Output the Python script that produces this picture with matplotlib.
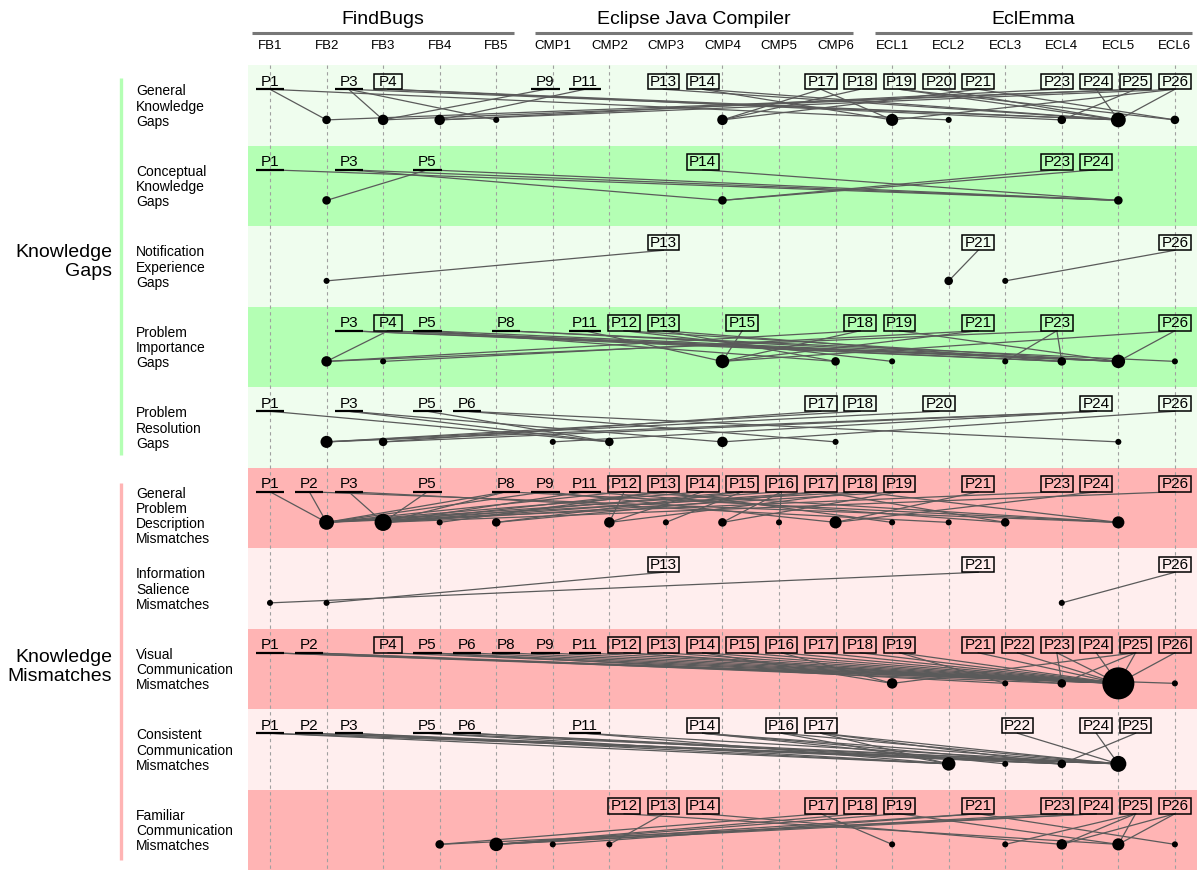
import matplotlib
matplotlib.use('Agg')
import matplotlib.pyplot as plt
from matplotlib.patches import Rectangle

# notifications (columns), grouped by tool
columns = ['FB1', 'FB2', 'FB3', 'FB4', 'FB5',
           'CMP1', 'CMP2', 'CMP3', 'CMP4', 'CMP5', 'CMP6',
           'ECL1', 'ECL2', 'ECL3', 'ECL4', 'ECL5', 'ECL6']
tools = ['FindBugs', 'Eclipse Java Compiler', 'EclEmma']
tool_columns = [('FB1', 'FB5'), ('CMP1', 'CMP6'), ('ECL1', 'ECL6')]

participants = ['P1', 'P2', 'P3', 'P4', 'P5', 'P6', 'P8', 'P9', 'P11', 'P12', 'P13', 'P14',
                'P15', 'P16', 'P17', 'P18', 'P19', 'P20', 'P21', 'P22', 'P23', 'P24', 'P25', 'P26']
boxed = ['P4', 'P12', 'P13', 'P14', 'P15', 'P16', 'P17', 'P18', 'P19', 'P20',
         'P21', 'P22', 'P23', 'P24', 'P25', 'P26']

categories = ['General\nKnowledge\nGaps', 'Conceptual\nKnowledge\nGaps',
              'Notification\nExperience\nGaps', 'Problem\nImportance\nGaps',
              'Problem\nResolution\nGaps', 'General\nProblem\nDescription\nMismatches',
              'Information\nSalience\nMismatches', 'Visual\nCommunication\nMismatches',
              'Consistent\nCommunication\nMismatches', 'Familiar\nCommunication\nMismatches']
groups = ['Knowledge\nGaps', 'Knowledge\nMismatches']

# dot weights per row (notification -> number of mentions)
dots_general_knowledge = {'FB2': 2, 'FB3': 3, 'FB4': 3, 'FB5': 1, 'CMP4': 3, 'ECL1': 4,
                          'ECL2': 1, 'ECL4': 2, 'ECL5': 6, 'ECL6': 2}
dots_conceptual = {'FB2': 2, 'CMP4': 2, 'ECL5': 2}
dots_notification_exp = {'FB2': 1, 'ECL2': 2, 'ECL3': 1}
dots_importance = {'FB2': 3, 'FB3': 1, 'CMP4': 5, 'CMP6': 2, 'ECL1': 1, 'ECL3': 1,
                   'ECL4': 2, 'ECL5': 5, 'ECL6': 1}
dots_resolution = {'FB2': 4, 'FB3': 2, 'CMP1': 1, 'CMP2': 2, 'CMP4': 3, 'CMP6': 1, 'ECL5': 1}
dots_general_problem = {'FB2': 6, 'FB3': 8, 'FB4': 1, 'FB5': 2, 'CMP2': 3, 'CMP3': 1,
                        'CMP4': 2, 'CMP5': 1, 'CMP6': 4, 'ECL1': 1, 'ECL2': 1, 'ECL3': 2,
                        'ECL5': 4}
dots_salience = {'FB1': 1, 'FB2': 1, 'ECL4': 1}
dots_visual = {'ECL1': 3, 'ECL3': 1, 'ECL4': 2, 'ECL5': 28, 'ECL6': 1}
dots_consistent = {'ECL2': 5, 'ECL3': 1, 'ECL4': 2, 'ECL5': 7}
dots_familiar = {'FB4': 2, 'FB5': 5, 'CMP1': 1, 'CMP2': 1, 'ECL1': 1, 'ECL3': 1,
                 'ECL4': 3, 'ECL5': 4, 'ECL6': 1}

# participant -> notification links per row
links_general_knowledge = [
    ('P1', 'FB2'), ('P1', 'ECL2'), ('P3', 'FB3'), ('P3', 'FB5'), ('P3', 'ECL5'),
    ('P4', 'ECL4'), ('P4', 'ECL5'), ('P9', 'FB3'), ('P11', 'FB4'), ('P13', 'ECL5'),
    ('P14', 'ECL1'), ('P14', 'ECL5'), ('P17', 'CMP4'), ('P17', 'ECL1'), ('P18', 'CMP4'),
    ('P19', 'ECL5'), ('P19', 'ECL6'), ('P20', 'ECL5'), ('P21', 'CMP4'), ('P21', 'ECL6'),
    ('P23', 'FB4'), ('P24', 'ECL5'), ('P25', 'FB3'), ('P25', 'FB2'), ('P25', 'ECL4'),
    ('P26', 'FB4'), ('P26', 'ECL1'), ('P26', 'ECL5')]
links_conceptual = [
    ('P1', 'ECL5'), ('P3', 'CMP4'), ('P3', 'ECL5'), ('P5', 'FB2'), ('P5', 'ECL5'),
    ('P14', 'ECL5'), ('P23', 'CMP4'), ('P24', 'CMP4')]
links_notification_exp = [('P13', 'FB2'), ('P21', 'ECL2'), ('P26', 'ECL3')]
links_importance = [
    ('P3', 'ECL4'), ('P3', 'ECL5'), ('P4', 'FB2'), ('P4', 'ECL4'), ('P4', 'ECL5'),
    ('P5', 'CMP6'), ('P5', 'ECL5'), ('P8', 'ECL5'), ('P8', 'ECL6'), ('P11', 'CMP4'),
    ('P12', 'ECL1'), ('P12', 'ECL5'), ('P13', 'CMP6'), ('P13', 'ECL4'), ('P15', 'CMP4'),
    ('P18', 'CMP4'), ('P18', 'FB2'), ('P19', 'ECL5'), ('P21', 'CMP4'), ('P21', 'FB3'),
    ('P23', 'ECL3'), ('P23', 'ECL4'), ('P23', 'FB2'), ('P26', 'ECL5'), ('P26', 'CMP4')]
links_resolution = [
    ('P1', 'CMP2'), ('P3', 'CMP2'), ('P3', 'CMP4'), ('P5', 'CMP2'), ('P6', 'CMP6'),
    ('P6', 'ECL5'), ('P17', 'FB3'), ('P18', 'FB2'), ('P20', 'FB2'), ('P24', 'FB2'),
    ('P24', 'FB3'), ('P24', 'CMP1'), ('P26', 'CMP4')]
links_general_problem = [
    ('P1', 'FB2'), ('P2', 'FB2'), ('P2', 'ECL5'), ('P3', 'FB3'), ('P3', 'ECL2'),
    ('P5', 'FB3'), ('P8', 'FB2'), ('P8', 'FB3'), ('P8', 'ECL5'), ('P9', 'FB2'),
    ('P9', 'CMP6'), ('P11', 'FB3'), ('P11', 'ECL3'), ('P12', 'FB2'), ('P12', 'CMP2'),
    ('P12', 'ECL5'), ('P13', 'FB3'), ('P13', 'FB4'), ('P13', 'ECL1'), ('P14', 'FB2'),
    ('P14', 'CMP2'), ('P15', 'FB3'), ('P15', 'FB5'), ('P15', 'CMP3'), ('P16', 'CMP4'),
    ('P16', 'CMP5'), ('P16', 'FB2'), ('P17', 'FB3'), ('P17', 'FB5'), ('P17', 'ECL3'),
    ('P18', 'FB2'), ('P18', 'CMP2'), ('P18', 'ECL5'), ('P19', 'FB3'), ('P19', 'CMP4'),
    ('P21', 'CMP6'), ('P23', 'FB2'), ('P24', 'CMP6'), ('P26', 'FB3')]
links_salience = [('P13', 'FB2'), ('P21', 'FB1'), ('P26', 'ECL4')]
links_visual = [
    ('P1', 'ECL5'), ('P1', 'ECL6'), ('P2', 'ECL5'), ('P2', 'ECL4'), ('P4', 'ECL5'),
    ('P5', 'ECL5'), ('P5', 'ECL3'), ('P6', 'ECL5'), ('P8', 'ECL5'), ('P9', 'ECL5'),
    ('P11', 'ECL5'), ('P12', 'ECL5'), ('P12', 'ECL4'), ('P13', 'ECL5'), ('P14', 'ECL5'),
    ('P14', 'ECL1'), ('P15', 'ECL5'), ('P16', 'ECL5'), ('P16', 'ECL1'), ('P17', 'ECL5'),
    ('P18', 'ECL5'), ('P19', 'ECL5'), ('P19', 'ECL3'), ('P21', 'ECL5'), ('P22', 'ECL5'),
    ('P23', 'ECL5'), ('P23', 'ECL4'), ('P24', 'ECL5'), ('P25', 'ECL5'), ('P25', 'ECL4'),
    ('P25', 'ECL1'), ('P26', 'ECL5')]
links_consistent = [
    ('P1', 'ECL2'), ('P1', 'ECL5'), ('P2', 'ECL4'), ('P2', 'ECL5'), ('P3', 'ECL2'),
    ('P3', 'ECL4'), ('P5', 'ECL2'), ('P5', 'ECL5'), ('P6', 'ECL4'), ('P6', 'ECL5'),
    ('P11', 'ECL2'), ('P11', 'ECL5'), ('P14', 'ECL4'), ('P14', 'ECL5'), ('P14', 'ECL3'),
    ('P16', 'ECL2'), ('P16', 'ECL5'), ('P17', 'ECL2'), ('P17', 'ECL4'), ('P17', 'ECL5'),
    ('P22', 'ECL5'), ('P24', 'ECL5'), ('P25', 'ECL4')]
links_familiar = [
    ('P12', 'ECL5'), ('P13', 'CMP2'), ('P14', 'ECL4'), ('P17', 'ECL1'), ('P17', 'FB4'),
    ('P18', 'FB5'), ('P19', 'FB5'), ('P19', 'ECL5'), ('P21', 'FB5'), ('P21', 'CMP1'),
    ('P21', 'ECL6'), ('P23', 'FB5'), ('P24', 'FB4'), ('P24', 'FB5'), ('P25', 'ECL3'),
    ('P25', 'ECL4'), ('P25', 'ECL5'), ('P26', 'ECL4'), ('P26', 'ECL5')]

row_dots = [dots_general_knowledge, dots_conceptual, dots_notification_exp, dots_importance,
            dots_resolution, dots_general_problem, dots_salience, dots_visual,
            dots_consistent, dots_familiar]
row_links = [links_general_knowledge, links_conceptual, links_notification_exp,
             links_importance, links_resolution, links_general_problem, links_salience,
             links_visual, links_consistent, links_familiar]

band_colors = ['#effdee', '#b4ffb4', '#effdee', '#b4ffb4', '#effdee',
               '#ffb4b4', '#ffeeee', '#ffb4b4', '#ffeeee', '#ffb4b4']
group_colors = ['#b4ffb4', '#ffb4b4']

plt.rcParams['font.family'] = ['Liberation Sans', 'DejaVu Sans']

LABEL_Y = 0.205   # participant label centre inside a row
BOX_TOP = 0.105
ANCHOR_Y = 0.30   # bottom of label, where links start
DOT_Y = 0.68      # notification dots


def col_x(c):
    return columns.index(c)


def part_x(p):
    return participants.index(p) * (len(columns) - 1) / (len(participants) - 1)


fig = plt.figure(figsize=(11.99, 8.71), dpi=100)
ax = fig.add_axes([0.2068, 0.001, 0.7915, 0.9242])
ax.set_xlim(-0.39, 16.39)
ax.set_ylim(10, 0)
ax.axis('off')

# row bands
for r, color in enumerate(band_colors):
    ax.axhspan(r, r + 1, color=color, lw=0, zorder=0)

# dashed column guides
ax.vlines(range(len(columns)), 0, 10, colors='#a0a0a0', linestyles=(0, (3, 3)),
          lw=0.8, zorder=1)

for r, (dots, links) in enumerate(zip(row_dots, row_links)):
    # links
    for p, c in links:
        ax.plot([part_x(p), col_x(c)], [r + ANCHOR_Y, r + DOT_Y], color='#5a5a5a',
                lw=0.9, zorder=2)
    # dots
    xs = [col_x(c) for c in dots]
    ax.scatter(xs, [r + DOT_Y] * len(xs), s=[19 * w for w in dots.values()],
               color='black', lw=0, zorder=3)
    # participant labels
    shown = sorted(set(p for p, c in links), key=participants.index)
    for p in shown:
        x = part_x(p)
        w = 0.50 if len(p) == 2 else 0.56
        ax.text(x, r + LABEL_Y, p, ha='center', va='center', fontsize=11, zorder=4)
        if p in boxed:
            ax.add_patch(Rectangle((x - w / 2, r + BOX_TOP), w, ANCHOR_Y - BOX_TOP,
                                   fill=False, ec='black', lw=1.1, zorder=4))
        else:
            ax.plot([x - w / 2, x + w / 2], [r + ANCHOR_Y, r + ANCHOR_Y], color='black',
                    lw=1.6, zorder=4, solid_capstyle='butt')
    # category label on the left
    ax.text(-2.37, r + 0.24, categories[r], ha='left', va='top', fontsize=10,
            linespacing=1.1, clip_on=False)

# group bars and labels
for g, (name, color) in enumerate(zip(groups, group_colors)):
    y0, y1 = (0.16, 4.84) if g == 0 else (5.19, 9.88)
    ax.plot([-2.63, -2.63], [y0, y1], color=color, lw=2.4, clip_on=False,
            solid_capstyle='butt')
    ax.text(-2.79, (y0 + y1) / 2 - 0.06, name, ha='right', va='center', fontsize=14,
            linespacing=1.15, clip_on=False)

# column headers
for i, c in enumerate(columns):
    ax.text(i, -0.235, c, ha='center', va='center', fontsize=9.5, clip_on=False)
for name, (c0, c1) in zip(tools, tool_columns):
    a, b = col_x(c0), col_x(c1)
    ax.plot([a - 0.31, b + 0.31], [-0.40, -0.40], color='#777777', lw=2.2,
            clip_on=False, solid_capstyle='butt')
    ax.text((a + b) / 2, -0.57, name, ha='center', va='center', fontsize=14, clip_on=False)

fig.savefig('out.png', dpi=100)
